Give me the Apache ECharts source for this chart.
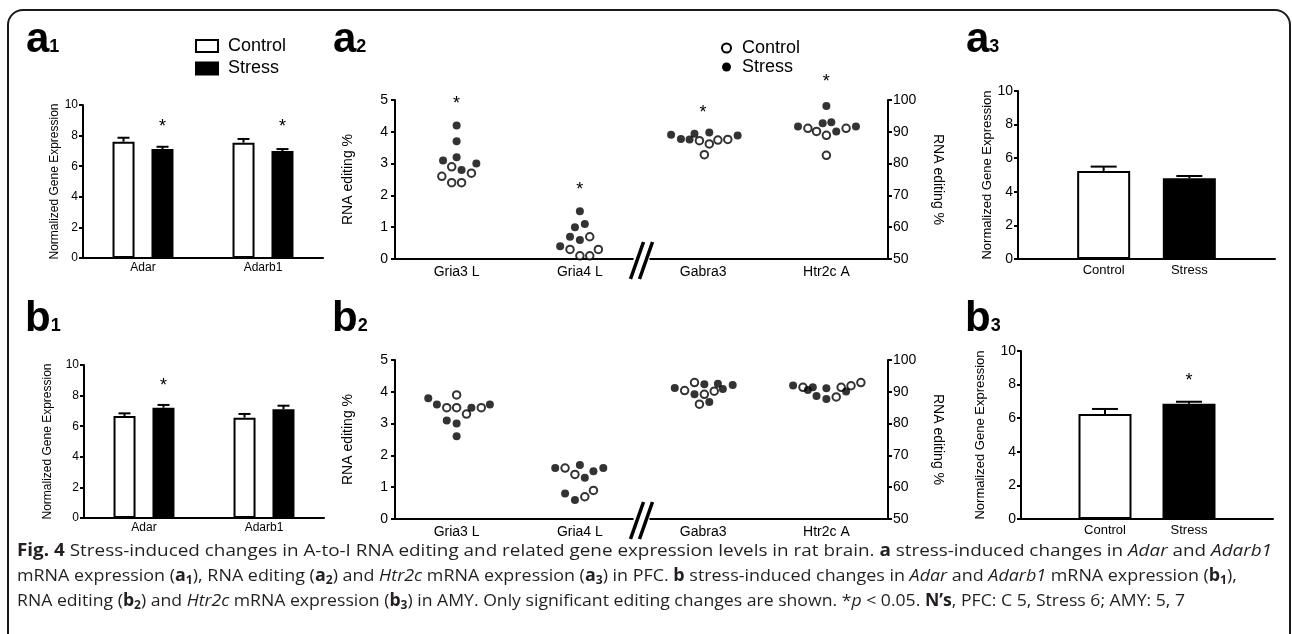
<!DOCTYPE html>
<html lang="en">
<head>
<meta charset="UTF-8">
<title>Fig. 4 - A-to-I RNA editing</title>
<script src="https://cdn.jsdelivr.net/npm/echarts@6.0.0/dist/echarts.min.js"></script>
<style>
  body { margin: 0; background: #fff; }
  #page { position: relative; width: 1292px; height: 634px; overflow: hidden; }
  #chart { position: absolute; left: 0; top: 0; width: 1292px; height: 634px; }
  #frame { position: absolute; left: 7px; top: 9px; width: 1284px; height: 700px; box-sizing: border-box;
           border: 2px solid #1a1a1a; border-radius: 16px; }
  .lab { position: absolute; font: bold 42px 'Liberation Sans', Arial, sans-serif; line-height: 42px; color: #000; }
  .lab span { font-size: 18px; }
  #caption { position: absolute; left: 17px; top: 537px; font-family: 'Open Sans', sans-serif; font-size: 17px;
             line-height: 25px; color: #231f20; }
  #caption div { white-space: nowrap; transform-origin: left center; width: max-content; }
  #caption sub { font-size: 0.68em; vertical-align: -0.25em; line-height: 0; }
</style>
</head>
<body>
<div id="page">
  <div id="frame"></div>
  <div id="chart"></div>
  <div class="lab" style="left:26px; top:17px;">a<span>1</span></div>
  <div class="lab" style="left:333px; top:17px;">a<span>2</span></div>
  <div class="lab" style="left:966px; top:17px;">a<span>3</span></div>
  <div class="lab" style="left:25px; top:296px;">b<span>1</span></div>
  <div class="lab" style="left:332px; top:296px;">b<span>2</span></div>
  <div class="lab" style="left:965px; top:296px;">b<span>3</span></div>
  <div id="caption">
    <div data-w="1255"><b>Fig. 4</b> Stress-induced changes in A-to-I RNA editing and related gene expression levels in rat brain. <b>a</b> stress-induced changes in <i>Adar</i> and <i>Adarb1</i></div>
    <div data-w="1220">mRNA expression (<b>a<sub>1</sub></b>), RNA editing (<b>a<sub>2</sub></b>) and <i>Htr2c</i> mRNA expression (<b>a<sub>3</sub></b>) in PFC. <b>b</b> stress-induced changes in <i>Adar</i> and <i>Adarb1</i> mRNA expression (<b>b<sub>1</sub></b>),</div>
    <div data-w="1168">RNA editing (<b>b<sub>2</sub></b>) and <i>Htr2c</i> mRNA expression (<b>b<sub>3</sub></b>) in AMY. Only significant editing changes are shown. *<i>p</i> &lt; 0.05. <b>N’s</b>, PFC: C 5, Stress 6; AMY: 5, 7</div>
  </div>
</div>

<script>
    // ---- gene expression (a1 / b1) ----
    var geneCats = ['Adar', 'Adarb1'];
    var a1Control = [7.6, 7.54];
    var a1ControlSem = [0.26, 0.24];
    var a1Stress = [7.12, 6.99];
    var a1StressSem = [0.15, 0.13];
    var a1Stars = [8.8, 8.8];
    var b1Control = [6.67, 6.56];
    var b1ControlSem = [0.17, 0.24];
    var b1Stress = [7.21, 7.1];
    var b1StressSem = [0.18, 0.24];
    var b1Stars = [8.9, null];

    // ---- Htr2c expression (a3 / b3) ----
    var groupCats = ['Control', 'Stress'];
    var a3Means = [5.24, 4.8];
    var a3Sem = [0.26, 0.14];
    var a3Stars = [null, null];
    var b3Means = [6.25, 6.86];
    var b3Sem = [0.3, 0.12];
    var b3Stars = [null, 8.45];

    // ---- RNA editing dots: [category, jitter, editing %] ----
    var dotCats = ['Gria3 L', 'Gria4 L', 'Gabra3', 'Htr2c A'];
    var a2Control = [
        [0, -0.04, 2.9], [0, -0.12, 2.6], [0, -0.04, 2.4], [0, 0.04, 2.4], [0, 0.12, 2.7],
        [1, 0.08, 0.7], [1, -0.08, 0.3], [1, 0, 0.1], [1, 0.08, 0.1], [1, 0.15, 0.3],
        [2, -0.03, 87.2], [2, 0.05, 86.2], [2, 0.12, 87.4], [2, 0.2, 87.6], [2, 0.01, 82.8],
        [3, -0.15, 91.1], [3, -0.08, 90.1], [3, 0, 88.9], [3, 0.16, 91.1], [3, 0, 82.6]
    ];
    var a2Stress = [
        [0, 0, 4.2], [0, 0, 3.7], [0, 0, 3.2], [0, -0.11, 3.1], [0, 0.04, 2.8], [0, 0.16, 3.0],
        [1, 0, 1.5], [1, -0.04, 1.0], [1, 0.04, 1.1], [1, -0.08, 0.7], [1, 0, 0.6], [1, -0.16, 0.4],
        [2, -0.26, 89.1], [2, -0.18, 87.7], [2, -0.11, 87.6], [2, -0.07, 89.4], [2, 0.05, 89.8], [2, 0.28, 88.8],
        [3, 0, 98.1], [3, -0.23, 91.7], [3, -0.03, 92.7], [3, 0.04, 93.0], [3, 0.08, 90.1], [3, 0.24, 91.7]
    ];
    var a2Stars = [[0, 5.0], [1, 2.3], [2, 97.1], [3, 106.9]];
    var b2Control = [
        [0, 0, 3.9], [0, -0.08, 3.5], [0, 0, 3.5], [0, 0.08, 3.3], [0, 0.2, 3.5],
        [1, -0.12, 1.6], [1, -0.04, 1.4], [1, 0.04, 0.7], [1, 0.11, 0.9],
        [2, -0.15, 90.4], [2, -0.07, 92.9], [2, 0.01, 89.2], [2, 0.09, 90.2], [2, -0.03, 86.1],
        [3, -0.19, 91.4], [3, 0.08, 88.4], [3, 0.12, 91.4], [3, 0.2, 91.9], [3, 0.28, 92.9]
    ];
    var b2Stress = [
        [0, -0.23, 3.8], [0, -0.16, 3.6], [0, -0.08, 3.1], [0, 0, 3.0], [0, 0, 2.6], [0, 0.12, 3.5], [0, 0.27, 3.6],
        [1, -0.2, 1.6], [1, 0, 1.7], [1, 0.04, 1.3], [1, 0.11, 1.5], [1, 0.19, 1.6], [1, -0.12, 0.8], [1, -0.04, 0.6],
        [2, -0.23, 91.2], [2, -0.07, 89.2], [2, 0.01, 92.4], [2, 0.05, 86.8], [2, 0.12, 92.5], [2, 0.16, 90.9], [2, 0.24, 92.1],
        [3, -0.27, 92.0], [3, -0.15, 90.6], [3, -0.11, 91.4], [3, 0, 91.1], [3, -0.08, 88.7], [3, 0, 87.7], [3, 0.16, 90.1]
    ];
    var b2Stars = [];

    var BLACK = '#000';
    var FONT = '"Liberation Sans", Arial, sans-serif';

    var chart = echarts.init(document.getElementById('chart'));
    var option = {
        animation: false,
        textStyle: { fontFamily: FONT, color: BLACK },
        grid: [], xAxis: [], yAxis: [], series: [], legend: []
    };

    function line() {
        return { show: true, onZero: false, lineStyle: { color: BLACK, width: 2 } };
    }
    var tick = { show: true, length: 4, lineStyle: { color: BLACK, width: 2 } };

    function errorBar(offset, cap) {
        return function (params, api) {
            var base = api.coord([api.value(0), api.value(1)]);
            var top = api.coord([api.value(0), api.value(1) + api.value(2)]);
            var x = base[0] + offset;
            var st = { stroke: BLACK, lineWidth: 2 };
            return { type: 'group', children: [
                { type: 'line', shape: { x1: x, y1: base[1], x2: x, y2: top[1] }, style: st },
                { type: 'line', shape: { x1: x - cap / 2, y1: top[1], x2: x + cap / 2, y2: top[1] }, style: st }
            ] };
        };
    }

    function star(offset) {
        return function (params, api) {
            var p = api.coord([api.value(0), api.value(1)]);
            return { type: 'text', style: { text: '*', x: p[0] + offset, y: p[1] + 4, align: 'center',
                verticalAlign: 'middle', fontSize: 18, fontFamily: FONT, fill: BLACK } };
        };
    }

    // bar panel: p.bars = [{name, data, sem, stars, fill, offset}]
    function barPanel(p) {
        var g = option.grid.length;
        option.grid.push({ left: p.left, top: p.top, width: p.width, height: p.height, outerBoundsMode: 'none' });
        var xi = option.xAxis.length, yi = option.yAxis.length;
        option.xAxis.push({
            type: 'category', gridIndex: g, data: p.cats, boundaryGap: p.boundaryGap,
            axisLine: line(), axisTick: { show: false }, splitLine: { show: false },
            axisLabel: { interval: 0, color: BLACK, fontFamily: FONT, fontSize: p.catFont, margin: p.catMargin }
        });
        option.yAxis.push({
            type: 'value', gridIndex: g, min: 0, max: 10, interval: 2,
            name: 'Normalized Gene Expression', nameLocation: 'middle', nameRotate: 90, nameGap: p.nameGap,
            nameTextStyle: { color: BLACK, fontFamily: FONT, fontSize: p.nameFont },
            axisLine: line(), axisTick: tick,
            axisLabel: { color: BLACK, fontFamily: FONT, fontSize: p.tickFont, margin: 5 },
            splitLine: { show: false }
        });
        p.bars.forEach(function (b) {
            option.series.push({
                type: 'bar', name: b.name, xAxisIndex: xi, yAxisIndex: yi, data: b.data,
                barWidth: p.barWidth, barGap: p.barGap,
                itemStyle: { color: b.fill, borderColor: BLACK, borderWidth: 2 },
                emphasis: { disabled: true }, silent: true
            });
            var err = [], stars = [];
            b.data.forEach(function (v, i) {
                if (v !== '-' && v != null) err.push([i, v, b.sem[i]]);
                if (b.stars[i] != null) stars.push([i, b.stars[i]]);
            });
            option.series.push({ type: 'custom', xAxisIndex: xi, yAxisIndex: yi, data: err, z: 3,
                renderItem: errorBar(b.offset, p.cap), silent: true });
            option.series.push({ type: 'custom', xAxisIndex: xi, yAxisIndex: yi, data: stars, z: 3,
                renderItem: star(b.offset), silent: true });
        });
    }

    var dotAxes = [];
    function dotPanel(p) {
        var g = option.grid.length;
        option.grid.push({ left: p.left, top: p.top, width: p.width, height: p.height, outerBoundsMode: 'none' });
        var xc = option.xAxis.length, xv = xc + 1;
        option.xAxis.push({
            type: 'category', gridIndex: g, data: dotCats, boundaryGap: true,
            axisLine: line(), axisTick: { show: false }, splitLine: { show: false },
            axisLabel: { interval: 0, color: BLACK, fontFamily: FONT, fontSize: 14, margin: 6 }
        });
        option.xAxis.push({ type: 'value', gridIndex: g, min: -0.5, max: 3.5, show: false, splitLine: { show: false } });
        var yl = option.yAxis.length, yr = yl + 1;
        var common = {
            type: 'value', gridIndex: g, nameLocation: 'middle', name: 'RNA editing %',
            nameTextStyle: { color: BLACK, fontFamily: FONT, fontSize: 14 },
            axisLine: line(), axisTick: tick, splitLine: { show: false }
        };
        option.yAxis.push(Object.assign({}, common, { position: 'left', min: 0, max: 5, interval: 1, nameRotate: 90, nameGap: 40,
            axisLabel: { color: BLACK, fontFamily: FONT, fontSize: 14, margin: 7 } }));
        option.yAxis.push(Object.assign({}, common, { position: 'right', min: 50, max: 100, interval: 10, nameRotate: -90, nameGap: 43,
            axisLabel: { color: BLACK, fontFamily: FONT, fontSize: 14, margin: 5 } }));

        [['Control', p.control, 7.5, { color: '#fff', borderColor: BLACK, borderWidth: 2 }],
         ['Stress', p.stress, 8, { color: BLACK }]].forEach(function (s) {
            [[yl, function (c) { return c < 2; }], [yr, function (c) { return c >= 2; }]].forEach(function (side) {
                option.series.push({
                    type: 'scatter', name: s[0], xAxisIndex: xv, yAxisIndex: side[0],
                    data: s[1].filter(function (d) { return side[1](d[0]); }).map(function (d) { return [d[0] + d[1], d[2]]; }),
                    symbol: 'circle', symbolSize: s[2], itemStyle: s[3], emphasis: { disabled: true }, silent: true
                });
            });
        });
        [[yl, function (c) { return c < 2; }], [yr, function (c) { return c >= 2; }]].forEach(function (side) {
            option.series.push({ type: 'custom', xAxisIndex: xv, yAxisIndex: side[0], z: 3, silent: true,
                data: p.stars.filter(function (d) { return side[1](d[0]); }), renderItem: star(0) });
        });
        dotAxes.push({ xv: xv, yl: yl });
    }

    // grouped bars: barWidth 22 + gap 17 -> centres 39 px apart
    barPanel({ left: 83, top: 105, width: 240, height: 153, cats: geneCats, boundaryGap: true,
        catFont: 12, catMargin: 4, nameGap: 22, nameFont: 12, tickFont: 12, barWidth: 22, barGap: '77%', cap: 12,
        bars: [
            { name: 'Control', data: a1Control, sem: a1ControlSem, stars: [null, null], fill: '#fff', offset: -19.5 },
            { name: 'Stress', data: a1Stress, sem: a1StressSem, stars: a1Stars, fill: BLACK, offset: 19.5 }
        ] });
    barPanel({ left: 84, top: 365, width: 240, height: 153, cats: geneCats, boundaryGap: true,
        catFont: 12, catMargin: 4, nameGap: 30, nameFont: 12, tickFont: 12, barWidth: 22, barGap: '77%', cap: 12,
        bars: [
            { name: 'Control', data: b1Control, sem: b1ControlSem, stars: [null, null], fill: '#fff', offset: -19.5 },
            { name: 'Stress', data: b1Stress, sem: b1StressSem, stars: b1Stars, fill: BLACK, offset: 19.5 }
        ] });

    function padGroup(vals, idx) {
        return ['-', idx === 0 ? vals[0] : '-', idx === 1 ? vals[1] : '-', '-'];
    }
    function padStars(vals, idx) {
        return [null, idx === 0 ? vals[0] : null, idx === 1 ? vals[1] : null, null];
    }
    function padSem(vals) { return [null, vals[0], vals[1], null]; }
    var groupAxis = [''].concat(groupCats, ['']);

    barPanel({ left: 1018, top: 91, width: 257, height: 168, cats: groupAxis, boundaryGap: false,
        catFont: 13, catMargin: 5, nameGap: 24, nameFont: 13, tickFont: 14, barWidth: 53, barGap: '-100%', cap: 26,
        bars: [
            { name: 'Control', data: padGroup(a3Means, 0), sem: padSem(a3Sem), stars: padStars(a3Stars, 0), fill: '#fff', offset: 0 },
            { name: 'Stress', data: padGroup(a3Means, 1), sem: padSem(a3Sem), stars: padStars(a3Stars, 1), fill: BLACK, offset: 0 }
        ] });
    barPanel({ left: 1021, top: 351, width: 252, height: 168, cats: groupAxis, boundaryGap: false,
        catFont: 13, catMargin: 5, nameGap: 34, nameFont: 13, tickFont: 14, barWidth: 53, barGap: '-100%', cap: 26,
        bars: [
            { name: 'Control', data: padGroup(b3Means, 0), sem: padSem(b3Sem), stars: padStars(b3Stars, 0), fill: '#fff', offset: 0 },
            { name: 'Stress', data: padGroup(b3Means, 1), sem: padSem(b3Sem), stars: padStars(b3Stars, 1), fill: BLACK, offset: 0 }
        ] });

    dotPanel({ left: 395, top: 100, width: 493, height: 159, control: a2Control, stress: a2Stress, stars: a2Stars });
    dotPanel({ left: 395, top: 360, width: 493, height: 159, control: b2Control, stress: b2Stress, stars: b2Stars });

    var legendText = { color: BLACK, fontFamily: FONT, fontSize: 18, lineHeight: 18 };
    option.legend.push({
        left: 195, top: 37, orient: 'vertical', padding: 0, itemGap: 4.5, itemWidth: 22, itemHeight: 12,
        selectedMode: false, textStyle: Object.assign({ padding: [0, 0, 0, 5] }, legendText),
        data: [
            { name: 'Control', icon: 'rect', itemStyle: { color: '#fff', borderColor: BLACK, borderWidth: 2 } },
            { name: 'Stress', icon: 'rect', itemStyle: { color: BLACK, borderColor: BLACK, borderWidth: 2 } }
        ]
    });
    option.legend.push({
        left: 721, top: 39, orient: 'vertical', padding: 0, itemGap: 1, itemWidth: 9, itemHeight: 9,
        selectedMode: false, textStyle: Object.assign({ padding: [0, 0, 0, 6] }, legendText),
        data: [
            { name: 'Control', icon: 'circle', itemStyle: { color: '#fff', borderColor: BLACK, borderWidth: 2 } },
            { name: 'Stress', icon: 'circle', itemStyle: { color: BLACK, borderWidth: 0 } }
        ]
    });

    chart.setOption(option);

    // axis break marks "//" between Gria4 L and Gabra3
    var marks = [];
    dotAxes.forEach(function (a) {
        var x = chart.convertToPixel({ xAxisIndex: a.xv }, 1.5);
        var y = chart.convertToPixel({ yAxisIndex: a.yl }, 0);
        marks.push({ type: 'rect', shape: { x: x - 8, y: y - 3, width: 16, height: 6 }, style: { fill: '#fff' }, z: 10 });
        [-4.5, 4.5].forEach(function (dx) {
            marks.push({ type: 'line', shape: { x1: x + dx - 6.5, y1: y + 20, x2: x + dx + 6.5, y2: y - 17 },
                style: { stroke: BLACK, lineWidth: 3.5 }, z: 11 });
        });
    });
    chart.setOption({ graphic: marks });

    // fit caption lines to the widths of the original typesetting
    Array.prototype.forEach.call(document.querySelectorAll('#caption div'), function (d) {
        var w = d.getBoundingClientRect().width;
        d.style.transform = 'scaleX(' + (parseFloat(d.getAttribute('data-w')) / w) + ')';
    });
</script>
</body>
</html>
